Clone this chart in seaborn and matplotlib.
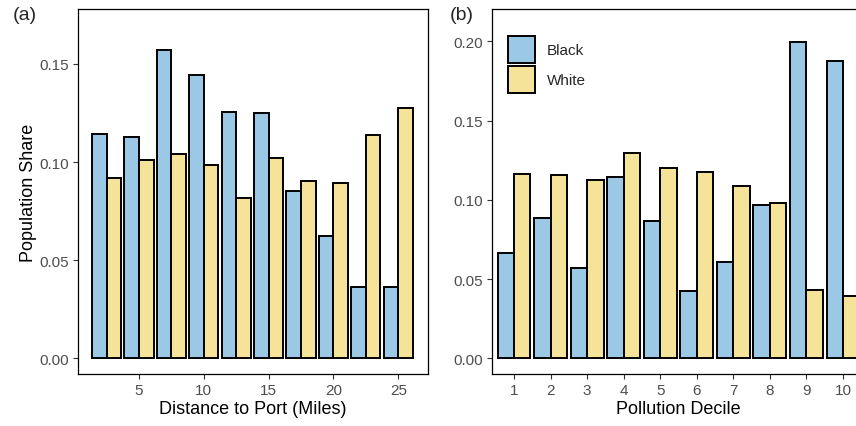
import numpy as np
import pandas as pd
import matplotlib
matplotlib.use("Agg")
import matplotlib.pyplot as plt
from matplotlib.patches import Patch
import seaborn as sns

# DATA
distance = [2.5, 5, 7.5, 10, 12.5, 15, 17.5, 20, 22.5, 25]
dist_black = [0.1144, 0.1130, 0.1570, 0.1444, 0.1256, 0.1252, 0.0852, 0.0623, 0.0365, 0.0361]
dist_white = [0.0918, 0.1010, 0.1040, 0.0984, 0.0818, 0.1022, 0.0903, 0.0894, 0.1140, 0.1276]

decile = ["1", "2", "3", "4", "5", "6", "7", "8", "9", "10"]
dec_black = [0.0667, 0.0884, 0.0571, 0.1146, 0.0867, 0.0426, 0.0611, 0.0967, 0.1996, 0.1874]
dec_white = [0.1161, 0.1156, 0.1127, 0.1297, 0.1203, 0.1173, 0.1087, 0.0978, 0.0434, 0.0397]

groups = ["Black", "White"]
colors = {"Black": "#9BC8E5", "White": "#F6E39A"}

df_a = pd.DataFrame({
    "x": distance * 2,
    "share": dist_black + dist_white,
    "race": ["Black"] * len(distance) + ["White"] * len(distance),
})
df_b = pd.DataFrame({
    "x": decile * 2,
    "share": dec_black + dec_white,
    "race": ["Black"] * len(decile) + ["White"] * len(decile),
})

# STYLE
sns.set_theme(style="white")
plt.rcParams["font.family"] = ["Liberation Sans", "DejaVu Sans"]

fig = plt.figure(figsize=(8.56, 4.27), dpi=100)
ax_a = fig.add_axes([0.0911, 0.1218, 0.409, 0.8548])
ax_b = fig.add_axes([0.5748, 0.1218, 0.4356, 0.8548])

bar_kw = dict(hue_order=groups, palette=colors, width=0.9, edgecolor="black",
              linewidth=1.4, saturation=1, legend=False)

sns.barplot(data=df_a, x="x", y="share", hue="race", native_scale=True, ax=ax_a, **bar_kw)
sns.barplot(data=df_b, x="x", y="share", hue="race", order=decile, ax=ax_b, **bar_kw)

ax_a.set_xlim(0.3, 27.3)
ax_a.set_ylim(-0.008, 0.178)
ax_a.set_xticks([5, 10, 15, 20, 25])
ax_a.set_yticks([0, 0.05, 0.10, 0.15])
ax_a.set_xlabel("Distance to Port (Miles)", fontsize=13, color="black", labelpad=2)
ax_a.set_ylabel("Population Share", fontsize=13, color="black", labelpad=2)

ax_b.set_xlim(-0.6, 9.6)
ax_b.set_ylim(-0.0098, 0.2204)
ax_b.set_yticks([0, 0.05, 0.10, 0.15, 0.20])
ax_b.set_xlabel("Pollution Decile", fontsize=13, color="black", labelpad=2)
ax_b.set_ylabel("")

for ax in (ax_a, ax_b):
    ax.yaxis.set_major_formatter(plt.FormatStrFormatter("%.2f"))
    for s in ax.spines.values():
        s.set_visible(True)
        s.set_color("black")
        s.set_linewidth(0.9)
    ax.tick_params(axis="both", which="major", direction="out", length=3.5, width=0.8,
                   color="#333333", labelcolor="#4D4D4D", labelsize=11,
                   bottom=True, left=True, pad=3)

handles = [Patch(facecolor=colors[g], edgecolor="black", linewidth=1.4, label=g) for g in groups]
ax_b.legend(handles=handles, loc="upper left", bbox_to_anchor=(0.043, 0.926), frameon=False,
            fontsize=11, handlelength=1.75, handleheight=2.3, labelspacing=0.25,
            handletextpad=0.78, borderaxespad=0, borderpad=0)

fig.text(0.015, 0.964, "(a)", fontsize=14, ha="left", va="center")
fig.text(0.525, 0.964, "(b)", fontsize=14, ha="left", va="center")

plt.savefig("out.png", dpi=100)
plt.close()
